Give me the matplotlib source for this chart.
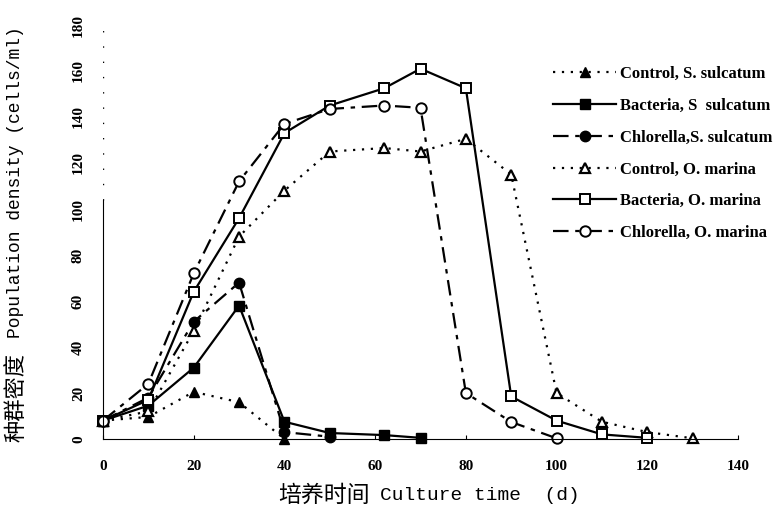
import numpy as np
import matplotlib.pyplot as plt

plt.rcParams['font.family'] = ['Liberation Serif', 'Noto Sans CJK SC']

# data (culture time in days, cells/ml)
t_ctrl_s = [0, 10, 20, 30, 40]
y_ctrl_s = [8, 9.6, 20.5, 16, 0]

t_bact_s = [0, 10, 20, 30, 40, 50, 62, 70]
y_bact_s = [8, 14.5, 31, 58, 7.5, 2.6, 1.7, 0.5]

t_chl_s = [0, 10, 20, 30, 40, 50]
y_chl_s = [8, 18, 51, 68, 3, 1]

t_ctrl_o = [0, 10, 20, 30, 40, 50, 62, 70, 80, 90, 100, 110, 120, 130]
y_ctrl_o = [8, 12, 47, 88, 108, 125, 126.5, 125, 130.5, 115, 20, 7.5, 3, 0.3]

t_bact_o = [0, 10, 20, 30, 40, 50, 62, 70, 80, 90, 100, 110, 120]
y_bact_o = [8, 17, 64, 96, 133, 145, 152.5, 161, 152.5, 18.5, 8, 2, 0.5]

t_chl_o = [0, 10, 20, 30, 40, 50, 62, 70, 80, 90, 100]
y_chl_o = [8, 24, 72, 112, 137, 143.5, 145, 144, 20, 7.4, 0.3]

labels = ['Control, S. sulcatum', 'Bacteria, S  sulcatum', 'Chlorella,S. sulcatum',
          'Control, O. marina', 'Bacteria, O. marina', 'Chlorella, O. marina']

W, H = 782, 509
fig = plt.figure(figsize=(W/100, H/100), dpi=100)
ax = fig.add_axes([103/W, 1-439/H, 635/W, 414/H])

dot = (0, (1, 3))
dashdot = (0, (7, 3, 2, 3))
kw = dict(color='black', lw=1.6, ms=7.5, clip_on=False)

ax.plot(t_ctrl_s, y_ctrl_s, linestyle=dot, marker='^', mfc='black', label=labels[0], **kw)
ax.plot(t_bact_s, y_bact_s, linestyle='-', marker='s', mfc='black', label=labels[1], **kw)
ax.plot(t_chl_s, y_chl_s, linestyle=dashdot, marker='o', mfc='black', label=labels[2], **kw)
ax.plot(t_ctrl_o, y_ctrl_o, linestyle=dot, marker='^', mfc='white', mew=1.6, label=labels[3], **kw)
ax.plot(t_bact_o, y_bact_o, linestyle='-', marker='s', mfc='white', mew=1.4, label=labels[4], **kw)
ax.plot(t_chl_o, y_chl_o, linestyle=dashdot, marker='o', mfc='white', mew=1.4, label=labels[5], **kw)

ax.set_xlim(0, 140)
ax.set_ylim(0, 180)
ax.set_xticks(np.arange(0, 141, 20))
ax.set_yticks(np.arange(0, 181, 20))
ax.spines['top'].set_visible(False)
ax.spines['right'].set_visible(False)
ax.spines['left'].set_bounds(0, 104)
ax.axvline(0, ymin=104/180, ymax=1, color='black', lw=1, linestyle=(0, (1, 10)))
ax.tick_params(axis='x', direction='in', length=3, labelsize=11, pad=15)
ax.tick_params(axis='y', length=0, labelsize=11, pad=13)
for lab in ax.get_yticklabels():
    lab.set_rotation(90)
    lab.set_va('center')
for lab in ax.get_xticklabels() + ax.get_yticklabels():
    lab.set_fontweight('bold')

# axis titles: Chinese part a little larger than the monospace part
mono = ['Liberation Mono', 'Noto Sans CJK SC']
fig.text(278/W, 1-495/H, '培养时间', fontsize=16.5, family='Noto Sans CJK SC',
         ha='left', va='center')
fig.text(380/W, 1-495/H, 'Culture time  (d)', fontsize=14, family=mono,
         ha='left', va='center')
fig.text(16/W, 1-442/H, '种群密度', fontsize=16, family='Noto Sans CJK SC',
         rotation=90, ha='center', va='bottom')
fig.text(16/W, 1-338/H, 'Population density (cells/ml)', fontsize=13, family=mono,
         rotation=90, ha='center', va='bottom')

leg = ax.legend(loc='upper left', bbox_to_anchor=(553/W, 1-66/H),
                bbox_transform=fig.transFigure, frameon=False, borderpad=0,
                borderaxespad=0, handlelength=3.8, handletextpad=0.2,
                labelspacing=0.95, prop={'size': 12, 'weight': 'bold'})

fig.savefig('out.png', dpi=100)
